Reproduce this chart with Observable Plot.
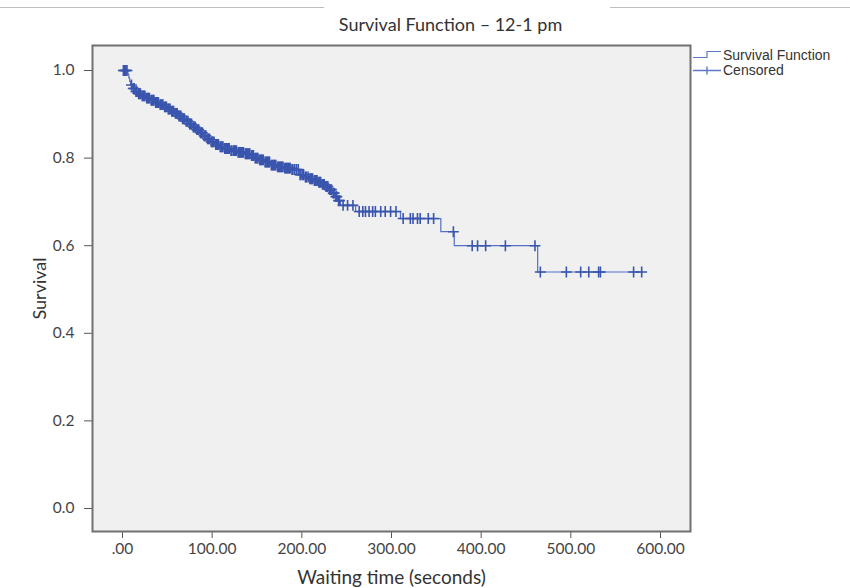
<!DOCTYPE html>
<html>
<head>
<meta charset="utf-8">
<script src="https://cdn.jsdelivr.net/npm/d3@7"></script>
<script src="https://cdn.jsdelivr.net/npm/@observablehq/plot@0.6"></script>
<style>
  body { margin: 0; background: #fff; }
  #wrap { position: relative; width: 850px; height: 588px; overflow: hidden; }
  .rule { position: absolute; top: 7px; height: 1px; background: #bdbdbd; }
  #legend { position: absolute; left: 688px; top: 45px; }
</style>
</head>
<body>
<div id="wrap">
  <div class="rule" style="left:0;width:324px"></div>
  <div class="rule" style="left:610px;width:240px"></div>
</div>
<script>
// ---- data ----
const titleText = "Survival Function \u2013 12-1 pm";
const xLabel = "Waiting time (seconds)";
const yLabel = "Survival";
const xTicks = [0, 100, 200, 300, 400, 500, 600];
const yTicks = [0, 0.2, 0.4, 0.6, 0.8, 1.0];

// Kaplan–Meier step: event times and survival after each event
const eventTimes = [0, 6, 7, 8, 9, 11, 14, 17, 21, 26, 31, 36, 41, 46, 50, 54, 58, 62, 66, 70, 74, 78, 82, 86, 90, 94, 98, 103, 108, 113, 120, 128, 136, 143, 147, 152, 158, 165, 172, 180, 188, 197, 203, 208, 213, 218, 222, 226, 230, 234, 237, 240, 243, 260, 310, 355, 370, 463];
const survival   = [1.0, 0.992, 0.983, 0.975, 0.967, 0.959, 0.952, 0.947, 0.942, 0.937, 0.932, 0.927, 0.922, 0.917, 0.912, 0.907, 0.902, 0.896, 0.890, 0.884, 0.878, 0.871, 0.865, 0.858, 0.851, 0.844, 0.837, 0.831, 0.826, 0.822, 0.817, 0.813, 0.810, 0.806, 0.800, 0.796, 0.791, 0.784, 0.780, 0.777, 0.774, 0.762, 0.757, 0.753, 0.749, 0.745, 0.740, 0.735, 0.728, 0.720, 0.712, 0.703, 0.692, 0.678, 0.662, 0.632, 0.600, 0.540];
const lastTime = 580;

// censored observation times (marks on the curve)
const censoredTimes = [1, 2, 3, 4, 5, 10, 12, 13, 15, 16, 18, 19, 20, 22, 23, 24, 25, 27, 28, 29, 30, 32, 33, 34, 35, 37, 38, 39, 40, 42, 43, 44, 45, 47, 48, 49, 51, 52, 53, 55, 56, 57, 59, 60, 61, 63, 64, 65, 67, 68, 69, 71, 72, 73, 75, 76, 77, 79, 80, 81, 83, 84, 85, 87, 88, 89, 91, 92, 93, 95, 96, 97, 99, 100, 101, 102, 104, 105, 106, 107, 109, 110, 111, 112, 114, 115, 116, 117, 118, 119, 121, 122, 124, 125, 126, 127, 129, 130, 131, 132, 133, 134, 135, 137, 138, 139, 140, 141, 142, 144, 145, 146, 148, 149, 150, 151, 153, 154, 155, 156, 157, 159, 160, 161, 162, 163, 164, 166, 167, 168, 169, 170, 171, 173, 174, 175, 176, 177, 178, 179, 181, 182, 183, 184, 185, 186, 187, 189, 190, 192, 194, 196, 198, 199, 201, 202, 204, 205, 207, 209, 210, 211, 212, 214, 215, 216, 217, 219, 220, 221, 223, 224, 225, 227, 228, 229, 231, 232, 233, 235, 236, 238, 239, 241, 242, 246, 251, 257, 264, 268, 271, 275, 279, 282, 288, 293, 299, 305, 313, 321, 324, 329, 332, 341, 347, 369, 390, 396, 405, 427, 460, 466, 495, 511, 520, 531, 533, 570, 579];

// ---- build tables ----
const curve = eventTimes.map((t, i) => ({t, s: survival[i]}));
curve.push({t: lastTime, s: survival[survival.length - 1]});
function survAt(t) {
  let s = survival[0];
  for (let i = 0; i < eventTimes.length; i++) if (eventTimes[i] <= t) s = survival[i];
  return s;
}
const censored = censoredTimes.map(t => ({t, s: survAt(t)}));

const lineColor = "#5571c4";
const markColor = "#3a55ad";
const xFmt = d => d === 0 ? ".00" : d.toFixed(2);

const chart = Plot.plot({
  width: 850,
  height: 588,
  marginLeft: 92,
  marginRight: 160,
  marginTop: 45,
  marginBottom: 57,
  style: {fontFamily: "Lato, 'Open Sans', sans-serif", fontSize: "15px", color: "#444", background: "transparent"},
  x: {domain: [0, 600], range: [122, 660]},
  y: {domain: [0, 1], range: [508, 70]},
  marks: [
    Plot.frame({fill: "#f0f0f0", stroke: null}),
    Plot.axisX({ticks: xTicks, tickFormat: xFmt, tickSize: 7, tickPadding: 4, label: null, stroke: "#555", fill: "#444", fontSize: 15.5}),
    Plot.axisY({ticks: yTicks, tickFormat: ".1f", tickSize: 8, tickPadding: 10, label: null, stroke: "#555", fill: "#444", fontSize: 15.5}),
    Plot.line(curve, {x: "t", y: "s", curve: "step-after", stroke: lineColor, strokeWidth: 1.2}),
    Plot.dot(censored, {x: "t", y: "s", symbol: "plus", r: 3.6, stroke: markColor, strokeWidth: 1.6}),
    Plot.frame({stroke: "#707070", strokeWidth: 2}),
    Plot.text([titleText], {frameAnchor: "top", dx: 59, dy: -20, textAnchor: "middle", lineAnchor: "middle", fontSize: 18, fill: "#333"}),
    Plot.text([xLabel], {frameAnchor: "bottom", dy: 46, textAnchor: "middle", lineAnchor: "middle", fontSize: 19, fill: "#333"}),
    Plot.text([yLabel], {frameAnchor: "left", dx: -52, rotate: -90, textAnchor: "middle", lineAnchor: "middle", fontSize: 18, fill: "#333"})
  ]
});
chart.style.position = "absolute";
chart.style.left = "0";
chart.style.top = "0";
document.getElementById("wrap").appendChild(chart);

// legend (top right, outside the plot frame)
const legendItems = ["Survival Function", "Censored"];
const lg = d3.select("#wrap").append("svg").attr("id", "legend").attr("width", 162).attr("height", 36);
lg.append("path").attr("d", "M5 12.5 H19 V6.5 H33").attr("fill", "none").attr("stroke", "#5b78c9").attr("stroke-width", 1.2);
lg.append("path").attr("d", "M5 25.5 H33 M19 21.5 V29.5").attr("fill", "none").attr("stroke", "#5b78c9").attr("stroke-width", 1.4);
lg.selectAll("text").data(legendItems).join("text")
  .attr("x", 35).attr("y", (d, i) => 10 + i * 15).attr("dy", "0.35em")
  .attr("font-family", "'Liberation Sans', Arial, sans-serif").attr("font-size", 14).attr("fill", "#333")
  .text(d => d);
</script>
</body>
</html>
